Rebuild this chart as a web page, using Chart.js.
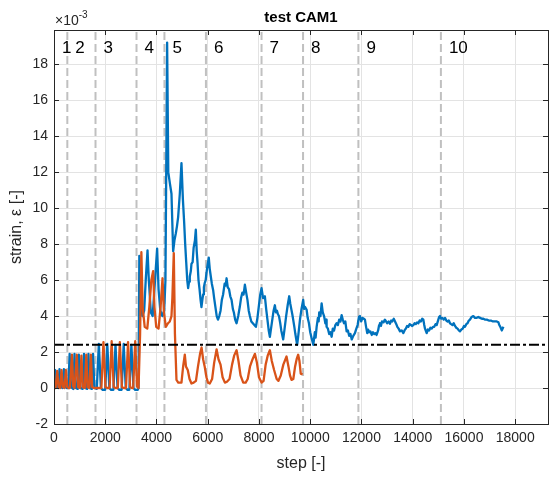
<!DOCTYPE html>
<html><head><meta charset="utf-8">
<script src="https://cdn.jsdelivr.net/npm/chart.js@4.4.0/dist/chart.umd.min.js"></script>
<style>html,body{margin:0;padding:0;background:#fff;}</style>
</head><body>
<canvas id="c" width="550" height="477" style="display:block;width:550px;height:477px"></canvas>
<script>
// ---- data: [step, strain (x1e-3)] ----
const blueSeries = [
  [0,0.1],[45,1.0],[100,0.05],[170,0.0],[215,1.05],[270,0.05],[340,0.0],[385,1.05],[440,0.05],[500,0.0],
  [560,0.0],[610,1.9],[665,0.05],[750,-0.05],[800,1.9],[850,0.0],[925,-0.05],[970,1.85],[1020,0.0],[1120,-0.05],
  [1170,1.9],[1220,0.0],[1295,-0.05],[1345,1.9],[1395,0.0],[1475,-0.05],[1525,1.9],[1575,0.0],
  [1670,-0.05],[1750,2.45],[1830,0.0],[1900,-0.1],[2000,-0.1],[2080,2.45],[2160,0.0],[2230,-0.1],[2320,-0.1],
  [2400,2.4],[2480,0.0],[2550,-0.1],[2640,-0.1],[2720,2.45],[2800,0.0],[2870,-0.1],[2940,-0.1],[3020,2.4],
  [3100,0.0],[3170,-0.1],[3270,-0.1],
  [3300,0.0],[3330,7.35],[3380,5.0],[3450,4.0],[3520,4.3],[3580,6.0],[3650,7.65],[3700,6.0],[3780,4.2],[3850,4.0],
  [3920,5.5],[4025,7.75],[4080,5.5],[4150,4.3],[4230,4.0],[4300,4.3],[4350,6.0],[4415,19.2],[4460,12.0],[4520,11.4],
  [4585,10.8],
  [4650,7.6],[4700,8.2],[4755,8.6],[4800,9.0],[4845,9.5],[4910,10.8],[4975,12.5],[5030,10.5],[5080,9.2],[5120,8.0],
  [5160,7.0],[5200,6.0],[5235,5.55],[5270,5.9],[5300,6.2],[5340,6.5],[5365,6.9],[5410,7.0],[5450,7.8],[5500,8.2],
  [5535,8.8],[5570,7.6],[5600,7.0],[5640,6.0],[5680,5.5],[5720,4.9],[5755,4.5],[5790,4.9],[5820,5.2],[5850,5.6],
  [5885,5.85],[5920,6.0],[5960,6.5],[6000,6.9],[6040,7.25],[6080,6.6],[6120,6.2],[6160,5.8],[6210,5.45],[6250,5.0],
  [6300,4.5],[6350,4.0],[6400,3.8],[6450,4.0],[6500,4.3],[6550,4.9],[6600,5.2],[6660,5.8],[6700,5.7],[6735,6.1],
  [6780,5.6],[6830,5.5],[6880,5.1],[6930,4.9],[6980,4.4],[7020,4.2],[7070,3.8],[7125,3.6],[7190,4.0],[7250,4.5],
  [7300,5.0],[7350,5.3],[7400,5.2],[7450,5.75],[7500,5.3],[7550,4.9],[7600,4.3],[7645,4.0],[7700,3.7],[7760,3.6],
  [7820,3.5],[7880,3.4],[7940,3.9],[7990,4.5],[8050,5.2],[8100,5.55],[8160,5.0],[8230,5.1],[8280,4.4],[8330,3.8],
  [8380,3.2],[8425,2.85],[8470,3.3],[8520,3.8],[8570,4.3],[8620,4.6],[8660,4.2],[8700,4.3],[8740,4.1],[8780,4.0],
  [8830,3.6],[8870,3.2],[8945,2.7],[9000,3.3],[9060,4.0],[9120,4.6],[9180,5.1],[9220,4.7],[9260,4.4],[9300,4.1],
  [9335,3.8],[9380,3.4],[9420,3.0],[9490,2.4],[9540,3.0],[9600,3.8],[9660,4.4],[9725,4.9],[9760,4.4],[9800,4.5],
  [9860,4.35],[9900,3.9],[9950,3.6],[10000,3.1],[10050,2.8],[10120,2.4],
  [10180,3.1],[10210,2.8],[10250,3.4],[10300,3.9],[10330,3.7],[10350,4.2],[10400,4.0],[10445,4.7],[10490,4.2],
  [10540,4.0],[10590,3.6],[10620,3.8],[10640,3.4],[10690,3.3],[10740,3.0],[10790,3.1],[10835,2.85],[10880,3.3],
  [10930,3.2],[10980,3.5],[11030,3.6],[11080,3.5],[11130,3.8],[11180,3.7],[11225,4.05],[11270,3.8],[11320,3.6],
  [11370,3.7],[11420,3.15],[11470,3.2],[11520,2.9],[11570,3.0],[11620,2.7],[11680,2.9],[11745,3.05],[11800,3.3],
  [11850,3.5],[11900,3.95],[11940,4.0],[11990,3.7],[12040,3.9],[12090,3.85],[12135,3.8],[12180,3.4],[12225,3.05],
  [12260,3.25],[12300,3.1],[12350,3.15],[12400,2.95],[12450,3.1],[12500,3.0],[12550,3.05],[12590,2.95],[12650,3.2],
  [12690,3.5],[12720,3.6],[12760,3.45],[12800,3.7],[12860,3.65],[12915,3.8],[12960,3.7],[13000,3.6],[13060,3.7],
  [13110,3.57],[13160,3.75],[13200,3.7],[13260,3.85],[13310,3.7],[13360,3.55],[13400,3.4],[13450,3.3],[13505,3.15],
  [13570,3.2],[13635,3.05],[13680,3.2],[13730,3.3],[13780,3.45],[13830,3.4],[13880,3.55],[13930,3.5],[13980,3.45],
  [14025,3.5],[14070,3.6],[14120,3.55],[14170,3.65],[14220,3.6],[14270,3.75],[14320,3.7],[14370,3.85],[14415,3.8],
  [14450,3.5],[14480,3.3],[14545,3.05],[14590,3.25],[14640,3.2],[14690,3.35],[14740,3.3],[14790,3.4],[14840,3.4],
  [14890,3.55],[14935,3.5],[15000,3.8],[15030,3.95],[15065,4.0],[15110,3.85],[15160,3.9],[15210,3.8],[15260,3.9],
  [15310,3.75],[15360,3.7],[15410,3.75],[15455,3.6],[15500,3.55],[15550,3.5],[15600,3.6],[15650,3.45],[15700,3.35],
  [15750,3.3],[15800,3.2],[15845,3.15],[15900,3.25],[15950,3.3],[16000,3.45],[16040,3.4],[16090,3.55],[16140,3.6],
  [16190,3.75],[16235,3.8],[16300,3.95],[16365,4.0],[16430,3.9],[16500,3.9],[16560,3.95],[16630,3.9],[16700,3.85],
  [16760,3.85],[16830,3.8],[16890,3.8],[16970,3.75],[17050,3.75],[17130,3.7],[17215,3.7],[17280,3.7],[17345,3.65],
  [17380,3.5],[17420,3.4],[17475,3.2],[17540,3.4]
];
const orangeSeries = [
  [0,0.0],[60,0.0],[125,0.95],[180,0.05],[240,0.0],[295,1.0],[350,0.05],[410,0.0],[465,1.0],[520,0.05],
  [570,0.0],[620,0.0],[700,1.85],[750,0.1],[800,0.0],[890,1.85],[940,0.05],[1010,0.0],[1070,1.8],[1120,0.05],
  [1200,0.0],[1260,1.85],[1310,0.05],[1380,0.0],[1440,1.85],[1490,0.05],[1560,0.0],[1620,0.0],
  [1850,0.0],[1930,2.55],[2010,0.05],[2080,0.0],[2170,0.0],[2250,2.6],[2330,0.05],[2400,0.0],[2490,0.0],[2570,2.55],
  [2650,0.05],[2720,0.0],[2810,0.0],[2890,2.55],[2970,0.05],[3040,0.0],[3090,0.0],[3170,2.6],[3240,0.1],
  [3300,0.0],[3360,3.0],[3410,7.55],[3460,4.5],[3540,3.4],[3640,3.3],[3720,4.5],[3800,6.0],[3870,6.5],[3920,4.5],
  [3990,3.4],[4080,3.3],[4160,4.5],[4235,6.1],[4290,4.2],[4365,3.4],[4450,3.6],[4520,3.7],[4585,4.0],[4620,5.0],
  [4675,7.5],[4720,3.0],
  [4780,0.45],[4850,0.3],[4975,0.3],[5040,1.2],[5105,1.85],[5150,1.2],[5220,1.0],[5290,0.5],[5365,0.25],[5450,0.3],
  [5540,0.4],[5620,1.2],[5700,1.9],[5760,2.25],[5820,1.6],[5880,1.2],[5950,0.6],[6010,0.3],[6080,0.25],[6170,0.5],
  [6250,1.4],[6345,2.15],[6420,1.6],[6500,1.3],[6580,0.6],[6670,0.3],[6750,0.35],[6850,0.5],[6950,1.3],[7030,1.8],
  [7125,2.1],[7200,1.5],[7280,0.7],[7385,0.3],[7480,0.3],[7560,0.5],[7650,1.2],[7750,1.6],[7840,1.9],[7920,1.4],
  [8000,0.6],[8100,0.3],[8180,0.4],[8260,1.3],[8340,1.8],[8425,2.1],[8500,1.5],[8590,1.0],[8690,0.5],[8760,0.4],
  [8850,0.7],[8950,1.3],[9075,1.75],[9150,1.2],[9210,0.7],[9270,0.45],[9340,0.5],[9410,1.2],[9470,1.6],[9530,1.85],
  [9580,1.5],[9630,0.8],[9700,0.75]
];

const phaseBounds = [520,1620,3220,4310,5930,8100,9720,11880,15100];
const phaseLabels = ['1','2','3','4','5','6','7','8','9','10'];
const threshold = 2.4;
const xTickVals = [0,2000,4000,6000,8000,10000,12000,14000,16000,18000];
const yTickVals = [-2,0,2,4,6,8,10,12,14,16,18];
const xMin = 0, xMax = 19280;
const yMin = -2, yMax = 19.9;
const titleText = 'test CAM1';
const xTitle = 'step [-]';
const yTitle = 'strain, \u03b5 [-]';

// ---- build datasets ----
const toPts = s => s.map(p => ({x: p[0], y: p[1]}));
const vlinePts = [];
phaseBounds.forEach(b => { vlinePts.push({x: b, y: yMin}, {x: b, y: yMax}, {x: b, y: NaN}); });

const FONT = "'Liberation Sans', Arial, Helvetica, sans-serif";
const INK = '#262626';

const decor = {
  id: 'decor',
  afterDraw(chart) {
    const ctx = chart.ctx, a = chart.chartArea;
    const xs = chart.scales.x, ys = chart.scales.y;
    ctx.save();
    ctx.strokeStyle = INK; ctx.lineWidth = 1;
    ctx.beginPath();
    xs.ticks.forEach(t => {
      const px = Math.round(xs.getPixelForValue(t.value)) + 0.5;
      ctx.moveTo(px, a.bottom); ctx.lineTo(px, a.bottom - 5);
      ctx.moveTo(px, a.top); ctx.lineTo(px, a.top + 5);
    });
    ys.ticks.forEach(t => {
      const py = Math.round(ys.getPixelForValue(t.value)) + 0.5;
      ctx.moveTo(a.left, py); ctx.lineTo(a.left + 5, py);
      ctx.moveTo(a.right, py); ctx.lineTo(a.right - 5, py);
    });
    ctx.stroke();
    ctx.strokeRect(Math.round(a.left) + 0.5, Math.round(a.top) + 0.5,
                   Math.round(a.right - a.left), Math.round(a.bottom - a.top));
    ctx.fillStyle = '#000';
    ctx.font = '17px ' + FONT;
    ctx.textAlign = 'left'; ctx.textBaseline = 'alphabetic';
    const starts = [xMin].concat(phaseBounds);
    starts.forEach((s, i) => {
      ctx.fillText(phaseLabels[i], xs.getPixelForValue(s) + 8, 53);
    });
    ctx.font = 'bold 15px ' + FONT;
    ctx.textAlign = 'center';
    ctx.fillText(titleText, (a.left + a.right) / 2, 22);
    ctx.fillStyle = INK;
    ctx.textAlign = 'left';
    ctx.font = '14px ' + FONT;
    ctx.fillText('\u00d710', 55, 25);
    const w = ctx.measureText('\u00d710').width;
    ctx.font = '10px ' + FONT;
    ctx.fillText('-3', 55 + w, 18);
    ctx.font = '16px ' + FONT;
    ctx.textAlign = 'center'; ctx.textBaseline = 'middle';
    ctx.fillText(xTitle, (a.left + a.right) / 2, 464);
    ctx.translate(17, (a.top + a.bottom) / 2);
    ctx.rotate(-Math.PI / 2);
    ctx.fillText(yTitle, 0, 0);
    ctx.restore();
  }
};

new Chart(document.getElementById('c'), {
  type: 'scatter',
  data: {
    datasets: [
      { data: [{x: xMin, y: threshold}, {x: xMax, y: threshold}], showLine: true,
        borderColor: '#000', borderWidth: 2, borderDash: [10, 3, 3, 3], pointRadius: 0, order: 0 },
      { data: toPts(orangeSeries), showLine: true, borderColor: '#D95319',
        borderWidth: 2.3, pointRadius: 0, order: 1 },
      { data: toPts(blueSeries), showLine: true, borderColor: '#0072BD',
        borderWidth: 2.3, pointRadius: 0, order: 2 },
      { data: vlinePts, showLine: true, spanGaps: false, borderColor: '#C0C0C0',
        borderWidth: 2, borderDash: [8, 4], pointRadius: 0, order: 3 }
    ]
  },
  options: {
    responsive: false, animation: false, devicePixelRatio: 1,
    layout: { padding: { top: 30, right: 2, left: 0, bottom: 0 } },
    plugins: { legend: { display: false }, tooltip: { enabled: false }, title: { display: false } },
    elements: { line: { tension: 0, borderJoinStyle: 'round' } },
    scales: {
      x: {
        type: 'linear', min: xMin, max: xMax,
        afterBuildTicks: s => { s.ticks = xTickVals.map(v => ({value: v})); },
        ticks: { autoSkip: false, maxRotation: 0, minRotation: 0,
                 callback: v => String(v), color: INK, font: { family: FONT, size: 14 }, padding: 6 },
        grid: { color: '#E3E3E3', lineWidth: 1, drawTicks: false },
        border: { display: false },
        afterFit: s => { s.height = 53; s.paddingRight = 0; s.paddingLeft = 0; }
      },
      y: {
        type: 'linear', min: yMin, max: yMax,
        afterBuildTicks: s => { s.ticks = yTickVals.map(v => ({value: v})); },
        ticks: { autoSkip: false,
                 callback: v => String(v), color: INK, font: { family: FONT, size: 14 }, padding: 6 },
        grid: { color: '#E3E3E3', lineWidth: 1, drawTicks: false },
        border: { display: false },
        afterFit: s => { s.width = 54; s.paddingTop = 0; s.paddingBottom = 0; }
      }
    }
  },
  plugins: [decor]
});
</script>
</body></html>
